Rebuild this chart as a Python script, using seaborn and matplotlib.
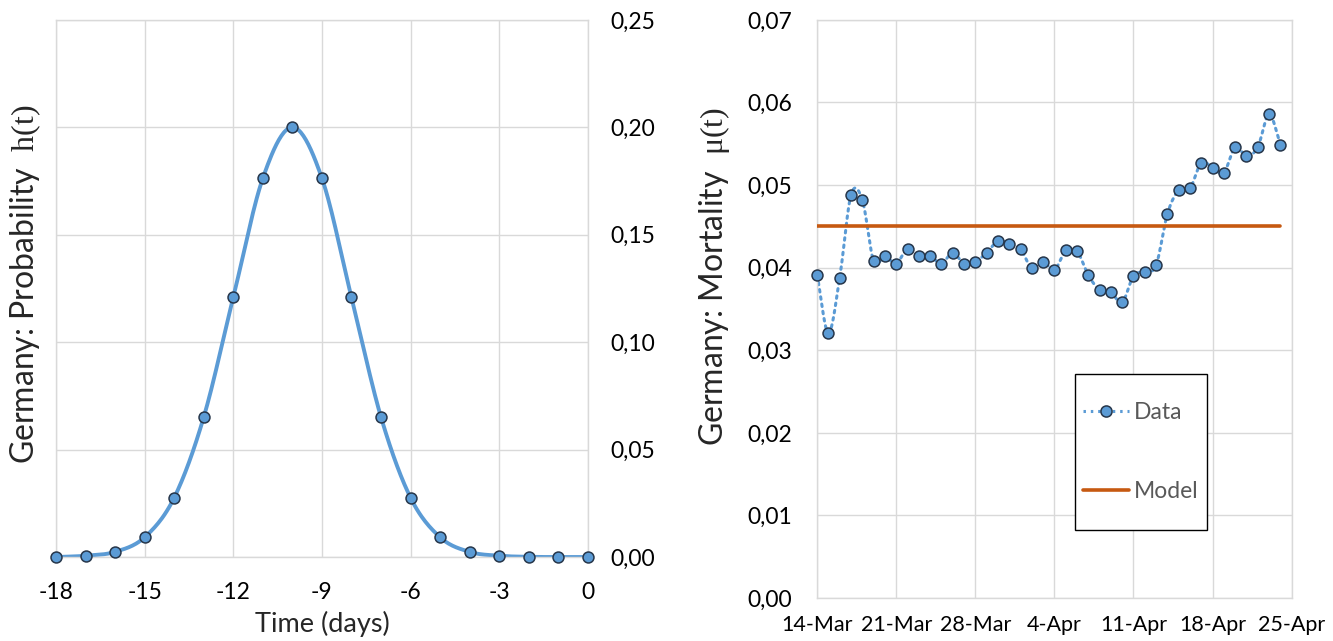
import numpy as np
import matplotlib
matplotlib.use("Agg")
import matplotlib.pyplot as plt
from matplotlib.lines import Line2D
from matplotlib.patches import Rectangle
import seaborn as sns

# Left panel: probability h(t) by day before death
days = [-18, -17, -16, -15, -14, -13, -12, -11, -10, -9, -8, -7, -6, -5, -4, -3, -2, -1, 0]
prob = [0.0000, 0.0006, 0.0024, 0.0092, 0.0276, 0.0651, 0.1209, 0.1763, 0.2000,
        0.1763, 0.1209, 0.0651, 0.0276, 0.0092, 0.0024, 0.0006, 0.0001, 0.0000, 0.0000]
left_xticks = [-18, -15, -12, -9, -6, -3, 0]
left_yticks = [0.00, 0.05, 0.10, 0.15, 0.20, 0.25]

# Right panel: daily mortality, 14-Mar .. 24-Apr
mortality = [0.0391, 0.0321, 0.0388, 0.0488, 0.0482, 0.0408, 0.0414, 0.0405, 0.0423,
             0.0414, 0.0414, 0.0405, 0.0418, 0.0405, 0.0407, 0.0418, 0.0432, 0.0429,
             0.0423, 0.0399, 0.0407, 0.0397, 0.0421, 0.0420, 0.0391, 0.0373, 0.0370,
             0.0358, 0.0390, 0.0395, 0.0403, 0.0465, 0.0494, 0.0496, 0.0527, 0.0521,
             0.0515, 0.0546, 0.0535, 0.0546, 0.0586, 0.0549]
model_value = 0.045
date_labels = ["14-Mar", "21-Mar", "28-Mar", "4-Apr", "11-Apr", "18-Apr", "25-Apr"]
right_yticks = [0.00, 0.01, 0.02, 0.03, 0.04, 0.05, 0.06, 0.07]

BLUE = "#5B9BD5"
EDGE = "#26364A"
ORANGE = "#C65911"
GRID = "#D9D9D9"

sns.set_theme(style="white")
plt.rcParams["font.family"] = ["Lato", "DejaVu Sans"]
plt.rcParams["mathtext.fontset"] = "custom"
plt.rcParams["mathtext.rm"] = "Liberation Serif"


def catmull_rom(x, y, n=24):
    """Smooth curve through the points, like a spreadsheet 'smoothed line'."""
    x = np.asarray(x, float)
    y = np.asarray(y, float)
    px = np.concatenate([[2 * x[0] - x[1]], x, [2 * x[-1] - x[-2]]])
    py = np.concatenate([[2 * y[0] - y[1]], y, [2 * y[-1] - y[-2]]])
    xs, ys = [], []
    t = np.linspace(0, 1, n, endpoint=False)
    for i in range(1, len(px) - 2):
        for p, out in ((px, xs), (py, ys)):
            p0, p1, p2, p3 = p[i - 1], p[i], p[i + 1], p[i + 2]
            out.append(0.5 * ((2 * p1) + (-p0 + p2) * t
                              + (2 * p0 - 5 * p1 + 4 * p2 - p3) * t ** 2
                              + (-p0 + 3 * p1 - 3 * p2 + p3) * t ** 3))
    xs.append([x[-1]])
    ys.append([y[-1]])
    return np.concatenate(xs), np.concatenate(ys)


def fmt_comma(v):
    return f"{v:.2f}".replace(".", ",")


W, H = 1333, 641
fig = plt.figure(figsize=(W / 100, H / 100), dpi=100)
ax1 = fig.add_axes([0.042, 0.131, 0.399, 0.838])
ax2 = fig.add_axes([0.613, 0.067, 0.356, 0.902])

for ax in (ax1, ax2):
    ax.set_facecolor("white")
    for s in ax.spines.values():
        s.set_color(GRID)
        s.set_linewidth(1.0)
    ax.grid(True, color=GRID, linewidth=1.0)
    ax.set_axisbelow(True)
    ax.tick_params(length=0, labelsize=16.5, colors="#000000")

# ---- left panel ----
sx, sy = catmull_rom(days, prob)
sns.lineplot(x=sx, y=sy, sort=False, ax=ax1, color=BLUE, linewidth=2.8, estimator=None)
sns.scatterplot(x=days, y=prob, ax=ax1, color=BLUE, edgecolor=EDGE, linewidth=1.1,
                s=62, zorder=5, clip_on=False)
ax1.set_xlim(-18, 0)
ax1.set_ylim(0, 0.25)
ax1.set_xticks(left_xticks)
ax1.set_xticklabels([str(v) for v in left_xticks])
ax1.set_yticks(left_yticks)
ax1.set_yticklabels([fmt_comma(v) for v in left_yticks])
ax1.yaxis.tick_right()
ax1.tick_params(axis="y", pad=16)
ax1.tick_params(axis="x", pad=18)
ax1.set_xlabel("Time (days)", fontsize=19.5, labelpad=6)
ax1.set_ylabel(r"Germany: Probability  $\mathrm{h(t)}$", fontsize=23)
ax1.yaxis.set_label_position("left")
ax1.yaxis.set_label_coords(-0.024, 0.507)

# ---- right panel ----
idx = np.arange(len(mortality))
mx, my = catmull_rom(idx, mortality)
sns.lineplot(x=mx, y=my, sort=False, ax=ax2, color=BLUE, linewidth=2.2,
             linestyle=(0, (0.8, 1.6)), estimator=None, dash_capstyle="round")
sns.scatterplot(x=idx, y=mortality, ax=ax2, color=BLUE, edgecolor=EDGE, linewidth=1.1,
                s=62, zorder=5, clip_on=False)
sns.lineplot(x=[idx[0], idx[-1]], y=[model_value, model_value], ax=ax2,
             color=ORANGE, linewidth=2.6, zorder=4)
ax2.set_xlim(0, 42)
ax2.set_ylim(0, 0.07)
ax2.set_xticks(np.arange(0, 43, 7))
ax2.set_xticklabels(date_labels)
ax2.set_yticks(right_yticks)
ax2.set_yticklabels([fmt_comma(v) for v in right_yticks])
ax2.tick_params(axis="y", pad=18)
ax2.tick_params(axis="x", pad=12, labelsize=15.5)
ax2.set_ylabel(r"Germany: Mortality  $\mathrm{\mu(t)}$", fontsize=23)
ax2.yaxis.set_label_coords(-0.18, 0.557)

# Legend: entries placed inside a plain black box
box = Rectangle((1075 / W, 1 - 530 / H), (1207 - 1075) / W, (530 - 374) / H,
                transform=fig.transFigure, facecolor="white", edgecolor="#000000",
                linewidth=1.0, zorder=10)
fig.add_artist(box)
handles = [
    Line2D([], [], color=BLUE, linewidth=2.2, linestyle=(0, (0.8, 1.6)),
           marker="o", markersize=8, markerfacecolor=BLUE, markeredgecolor=EDGE,
           markeredgewidth=1.1),
    Line2D([], [], color=ORANGE, linewidth=2.6),
]
leg = fig.legend(handles, ["Data", "Model"], loc="center",
                 bbox_to_anchor=(1141 / W, 1 - 452 / H),
                 bbox_transform=fig.transFigure, frameon=False, fontsize=16.5,
                 labelspacing=2.5, handlelength=2.0, handletextpad=0.2,
                 borderpad=0, borderaxespad=0)
leg.set_zorder(11)
for t in leg.get_texts():
    t.set_color("#595959")

fig.savefig("out.png", dpi=100, facecolor="white")
